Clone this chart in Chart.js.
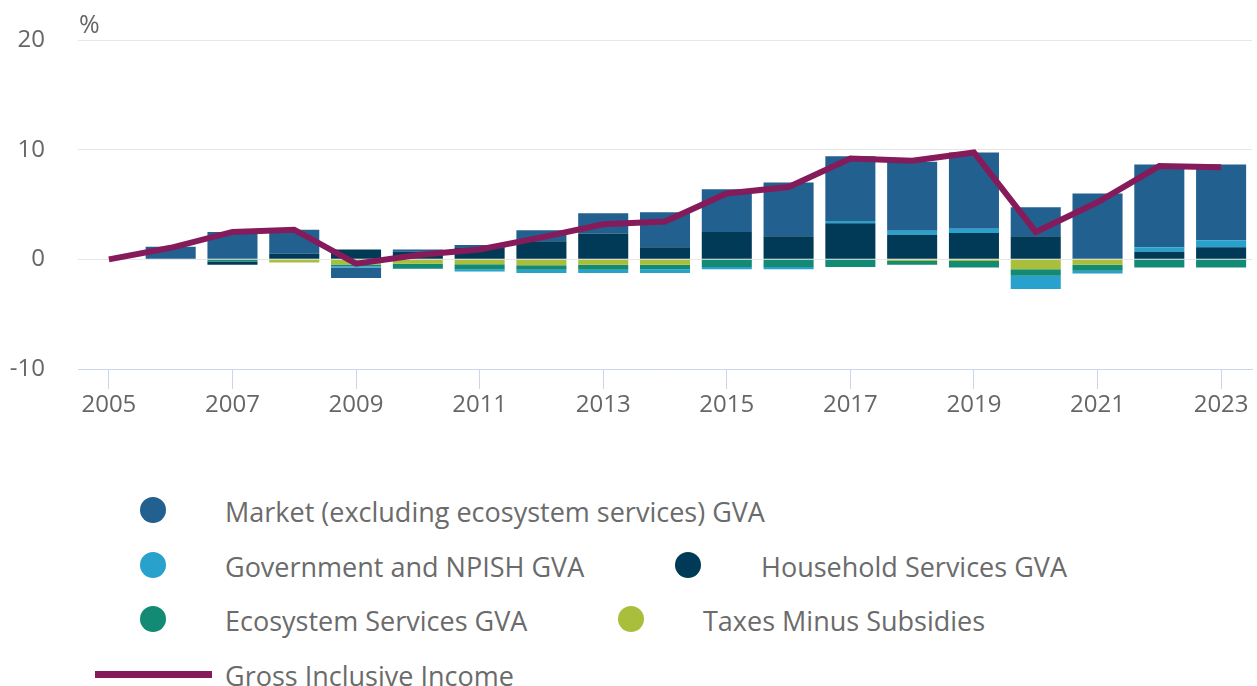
<!DOCTYPE html>
<html>
<head>
<meta charset="utf-8">
<script src="https://cdn.jsdelivr.net/npm/chart.js@4"></script>
<style>
    body { margin: 0; background: #fff; font-family: 'Open Sans', sans-serif; }
    #wrap { position: relative; width: 1257px; height: 686px; }
    #chart { position: absolute; left: 0; top: 0; }
    .legend-item { position: absolute; font-size: 27px; color: #6b6b6b; line-height: 32px; white-space: nowrap; }
    .dot { position: absolute; width: 26px; height: 26px; border-radius: 50%; }
    .bar { position: absolute; width: 117px; height: 7px; }
</style>
</head>
<body>
<div id="wrap">
    <canvas id="chart" width="1257" height="440"></canvas>
    <div id="legend"></div>
</div>
<script>
// 데이터
const years = ['2005', '2006', '2007', '2008', '2009', '2010', '2011', '2012', '2013', '2014',
               '2015', '2016', '2017', '2018', '2019', '2020', '2021', '2022', '2023'];
const market     = [0, 1.15, 2.5, 2.2, -0.95, 0.2, 0.2, 1.0, 1.85, 3.2, 3.9, 4.9, 5.9, 6.3, 6.95, 2.65, 5.9, 7.55, 6.9];
const government = [0, 0, 0, 0, -0.12, 0, -0.2, -0.3, -0.3, -0.35, -0.2, -0.2, 0.2, 0.35, 0.4, -1.2, -0.25, 0.4, 0.65];
const household  = [0, 0, -0.3, 0.5, 0.9, 0.7, 1.1, 1.65, 2.35, 1.1, 2.5, 2.1, 3.3, 2.25, 2.4, 2.1, 0.1, 0.7, 1.1];
const ecosystem  = [0, 0, -0.2, 0, -0.15, -0.45, -0.45, -0.4, -0.45, -0.4, -0.7, -0.7, -0.7, -0.35, -0.6, -0.6, -0.55, -0.75, -0.75];
const taxes      = [0, 0, 0, -0.3, -0.48, -0.4, -0.45, -0.55, -0.5, -0.5, 0, 0, 0, -0.15, -0.15, -0.9, -0.5, 0, 0];
const gii        = [0, 1.05, 2.5, 2.7, -0.4, 0.4, 0.9, 2.0, 3.2, 3.45, 6.0, 6.6, 9.2, 9.0, 9.75, 2.5, 5.2, 8.5, 8.4];
const yTicks = [-10, 0, 10, 20];

const colors = {
    market: '#22608f',
    government: '#28a1cd',
    household: '#013a56',
    ecosystem: '#128a74',
    taxes: '#a9be3a',
    gii: '#861b5b'
};

const FONT = "'Open Sans', sans-serif";
const GREY = '#666666';

// "%" 표시
const unitLabel = {
    id: 'unitLabel',
    afterDraw(chart) {
        const ctx = chart.ctx;
        ctx.save();
        ctx.font = '25px ' + FONT;
        ctx.fillStyle = GREY;
        ctx.textBaseline = 'middle';
        ctx.fillText('%', chart.chartArea.left + 1, 26);
        ctx.restore();
    }
};

function barSet(label, data, color) {
    return {
        type: 'bar',
        label: label,
        data: data,
        backgroundColor: color,
        borderWidth: 0,
        stack: 'gva',
        barPercentage: 1,
        categoryPercentage: 0.81,
        order: 2
    };
}

new Chart(document.getElementById('chart'), {
    data: {
        labels: years,
        datasets: [
            {
                type: 'line',
                label: 'Gross Inclusive Income',
                data: gii,
                borderColor: colors.gii,
                borderWidth: 6,
                pointRadius: 0,
                tension: 0,
                stack: 'line',
                order: 0
            },
            // 쌓는 순서: 0에 가까운 것부터
            barSet('Taxes Minus Subsidies', taxes, colors.taxes),
            barSet('Ecosystem Services GVA', ecosystem, colors.ecosystem),
            barSet('Household Services GVA', household, colors.household),
            barSet('Government and NPISH GVA', government, colors.government),
            barSet('Market (excluding ecosystem services) GVA', market, colors.market)
        ]
    },
    options: {
        responsive: false,
        animation: false,
        layout: { padding: { top: 40, right: 5, left: 0, bottom: 0 } },
        plugins: {
            legend: { display: false },
            tooltip: { enabled: false }
        },
        scales: {
            x: {
                stacked: true,
                offset: true,
                grid: {
                    offset: false,
                    drawOnChartArea: false,
                    drawTicks: true,
                    tickLength: 20,
                    color: (c) => c.index % 2 === 0 ? '#ccd6eb' : 'rgba(0,0,0,0)'
                },
                border: { color: '#ccd6eb', width: 1 },
                ticks: {
                    autoSkip: false,
                    maxRotation: 0,
                    padding: 2,
                    color: GREY,
                    font: { family: FONT, size: 24 },
                    callback: function (v, i) { return i % 2 === 0 ? years[i] : ''; }
                },
                afterFit: (s) => { s.height = 71; }
            },
            y: {
                stacked: true,
                min: -10,
                max: 20,
                afterBuildTicks: (s) => { s.ticks = yTicks.map(v => ({ value: v })); },
                grid: {
                    drawTicks: false,
                    color: (c) => c.tick && c.tick.value === -10 ? 'rgba(0,0,0,0)' : '#e6e6e6'
                },
                border: { display: false },
                ticks: {
                    padding: 33,
                    color: GREY,
                    font: { family: FONT, size: 24 }
                },
                afterFit: (s) => {
                    s.width = 78;
                    s.paddingTop = 0;
                    s.paddingBottom = 0;
                }
            }
        }
    },
    plugins: [unitLabel]
});

// 범례
const legendItems = [
    { label: 'Market (excluding ecosystem services) GVA', color: colors.market, cx: 153, cy: 510, tx: 225 },
    { label: 'Government and NPISH GVA', color: colors.government, cx: 153, cy: 565, tx: 225 },
    { label: 'Household Services GVA', color: colors.household, cx: 688, cy: 565, tx: 761 },
    { label: 'Ecosystem Services GVA', color: colors.ecosystem, cx: 153, cy: 619, tx: 225 },
    { label: 'Taxes Minus Subsidies', color: colors.taxes, cx: 631, cy: 619, tx: 703 },
    { label: 'Gross Inclusive Income', color: colors.gii, cx: 153, cy: 674, tx: 225, line: true }
];

document.getElementById('legend').innerHTML = legendItems.map(item => {
    const mark = item.line
        ? `<div class="bar" style="left:${item.cx - 58}px;top:${item.cy - 3}px;background:${item.color}"></div>`
        : `<div class="dot" style="left:${item.cx - 13}px;top:${item.cy - 13}px;background:${item.color}"></div>`;
    return mark + `<div class="legend-item" style="left:${item.tx}px;top:${item.cy - 14}px">${item.label}</div>`;
}).join('');
</script>
</body>
</html>
